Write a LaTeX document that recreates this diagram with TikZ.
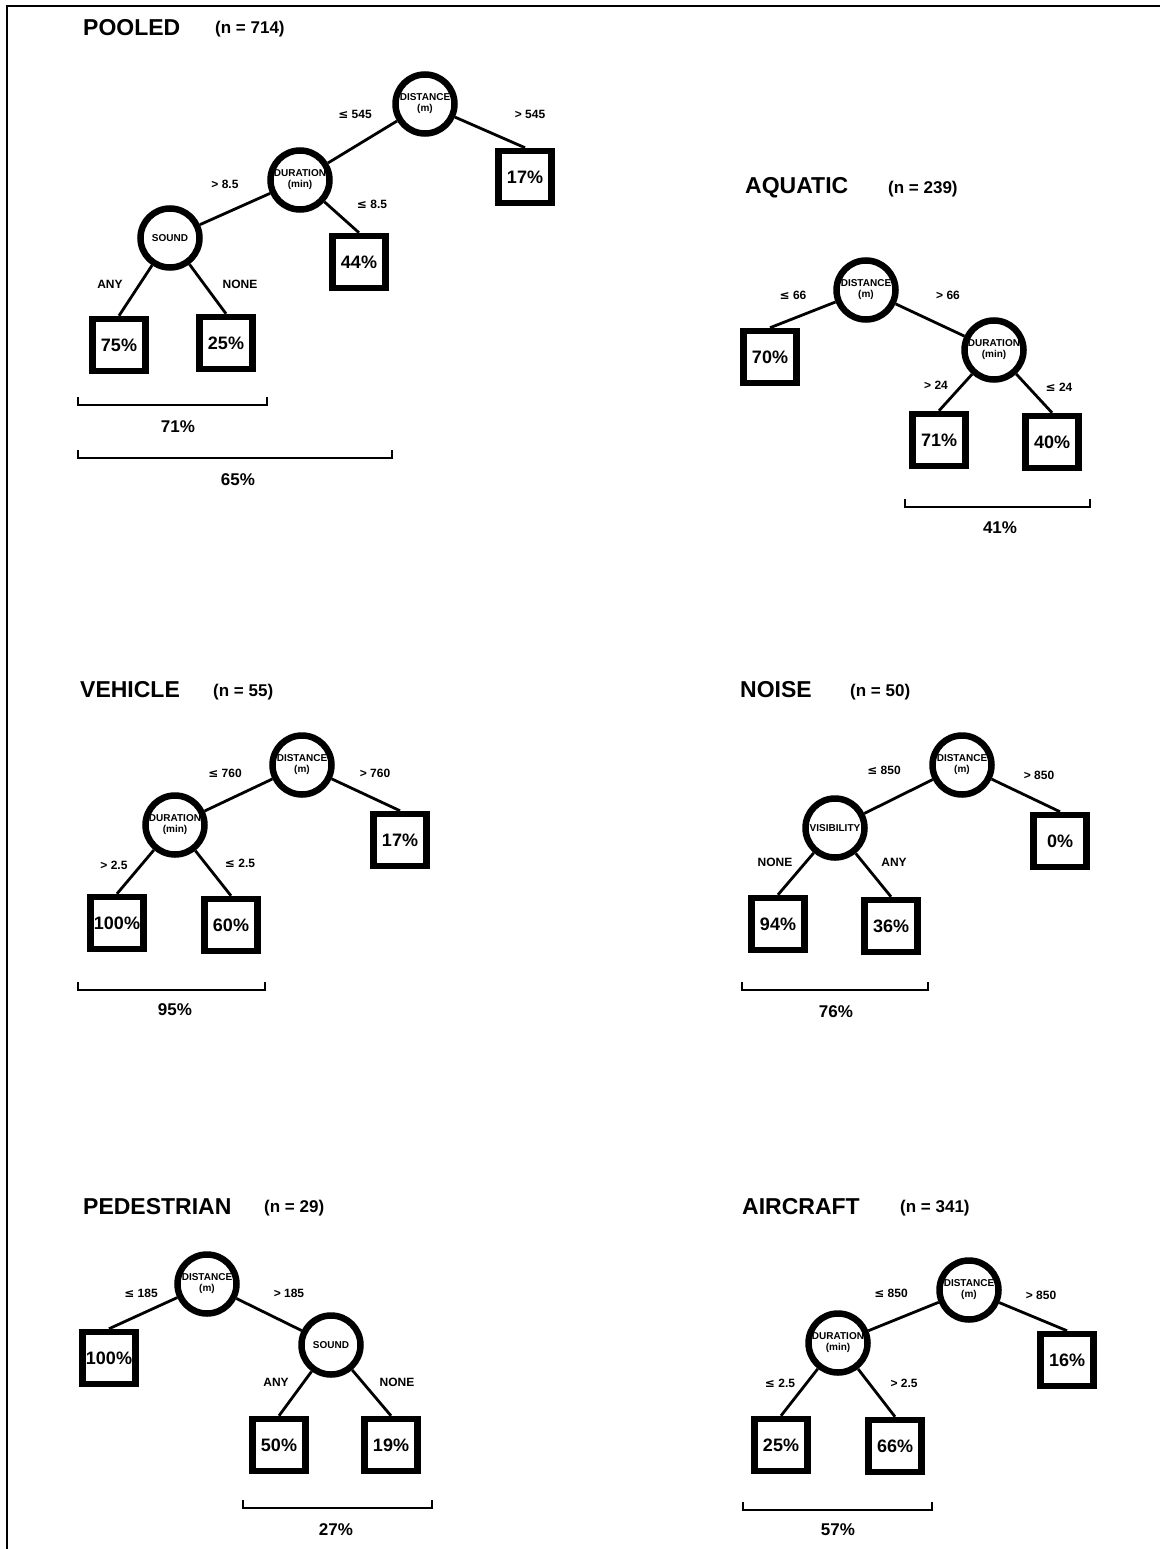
\documentclass[tikz,border=0pt]{standalone}
\usepackage{fontspec}
\setmainfont{Liberation Sans}
\newfontfamily\symfont{DejaVu Sans}
\newcommand{\LEq}{{\symfont\bfseries ≤}}
\tikzset{
  testnode/.style={circle, draw, line width=6.5pt, minimum size=59pt, inner sep=0pt, fill=white,
    path picture={\node[font=\bfseries\fontsize{10}{11}\selectfont, align=center, inner sep=0pt]
      at (path picture bounding box.center) {#1};}},
  leaf/.style={draw, line width=6.5pt, minimum width=53pt, minimum height=52pt, inner sep=0pt, fill=white,
    font=\bfseries\fontsize{18}{18}\selectfont},
  link/.style={line width=2.8pt},
  blab/.style={font=\bfseries\fontsize{12}{12}\selectfont, inner sep=0pt},
  ttl/.style={anchor=west, font=\bfseries\fontsize{23}{23}\selectfont, inner sep=0pt},
  ncount/.style={anchor=west, font=\bfseries\fontsize{17}{17}\selectfont, inner sep=0pt},
  brk/.style={line width=2.3pt},
  pct/.style={font=\bfseries\fontsize{17}{17}\selectfont, inner sep=0pt}
}
\begin{document}
\begin{tikzpicture}[x=1pt, y=-1pt]
\useasboundingbox (0,0) rectangle (1160,1549);
% frame
\coordinate (fbl) at (7,1549);
\coordinate (ftl) at (7,6);
\coordinate (ftr) at (1160,6);
\draw[line width=2.2pt] (fbl) -- (ftl) -- (ftr);

% ---------------- POOLED ----------------
\node[ttl] (pT) at (83,28) {POOLED};
\node[ncount] (pN) at (215,29) {(n = 714)};
\node[testnode={DISTANCE\\(m)}] (p1) at (425,104) {};
\node[testnode={DURATION\\(min)}] (p2) at (300,180) {};
\node[testnode={SOUND}] (p3) at (170,238) {};
\node[leaf] (p17) at (525,177) {17\%};
\node[leaf] (p44) at (359,262) {44\%};
\node[leaf] (p75) at (119,345) {75\%};
\node[leaf] (p25) at (226,343) {25\%};
\draw[link] (p1) -- (p2);
\draw[link] (p1) -- (p17.north);
\draw[link] (p2) -- (p3);
\draw[link] (p2) -- (p44.north);
\draw[link] (p3) -- (p75.north);
\draw[link] (p3) -- (p25.north);
\node[blab] (pl1) at (355,114) {\LEq\ 545};
\node[blab] (pl2) at (530,114) {> 545};
\node[blab] (pl3) at (225,184) {> 8.5};
\node[blab] (pl4) at (372,204) {\LEq\ 8.5};
\node[blab] (pl5) at (110,284) {ANY};
\node[blab] (pl6) at (240,284) {NONE};
\coordinate (pa1) at (78,397); \coordinate (pa2) at (78,405);
\coordinate (pa3) at (267,405); \coordinate (pa4) at (267,397);
\draw[brk] (pa1) -- (pa2) -- (pa3) -- (pa4);
\node[pct] (p71) at (178,427) {71\%};
\coordinate (pb1) at (78,450); \coordinate (pb2) at (78,458);
\coordinate (pb3) at (392,458); \coordinate (pb4) at (392,450);
\draw[brk] (pb1) -- (pb2) -- (pb3) -- (pb4);
\node[pct] (p65) at (238,480) {65\%};

% ---------------- AQUATIC ----------------
\node[ttl] (aT) at (745,188) {AQUATIC};
\node[ncount] (aN) at (888,189) {(n = 239)};
\node[testnode={DISTANCE\\(m)}] (a1) at (866,290) {};
\node[testnode={DURATION\\(min)}] (a2) at (994,350) {};
\node[leaf] (a70) at (770,357) {70\%};
\node[leaf] (a71) at (939,440) {71\%};
\node[leaf] (a40) at (1052,442) {40\%};
\draw[link] (a1) -- (a70.north);
\draw[link] (a1) -- (a2);
\draw[link] (a2) -- (a71.north);
\draw[link] (a2) -- (a40.north);
\node[blab] (al1) at (793,295) {\LEq\ 66};
\node[blab] (al2) at (948,295) {> 66};
\node[blab] (al3) at (936,385) {> 24};
\node[blab] (al4) at (1059,387) {\LEq\ 24};
\coordinate (aa1) at (905,499); \coordinate (aa2) at (905,507);
\coordinate (aa3) at (1090,507); \coordinate (aa4) at (1090,499);
\draw[brk] (aa1) -- (aa2) -- (aa3) -- (aa4);
\node[pct] (a41) at (1000,528) {41\%};

% ---------------- VEHICLE ----------------
\node[ttl] (vT) at (80,690) {VEHICLE};
\node[ncount] (vN) at (213,692) {(n = 55)};
\node[testnode={DISTANCE\\(m)}] (v1) at (302,765) {};
\node[testnode={DURATION\\(min)}] (v2) at (175,825) {};
\node[leaf] (v17) at (400,840) {17\%};
\node[leaf] (v100) at (117,923) {100\%};
\node[leaf] (v60) at (231,925) {60\%};
\draw[link] (v1) -- (v2);
\draw[link] (v1) -- (v17.north);
\draw[link] (v2) -- (v100.north);
\draw[link] (v2) -- (v60.north);
\node[blab] (vl1) at (225,773) {\LEq\ 760};
\node[blab] (vl2) at (375,773) {> 760};
\node[blab] (vl3) at (114,865) {> 2.5};
\node[blab] (vl4) at (240,863) {\LEq\ 2.5};
\coordinate (va1) at (78,982); \coordinate (va2) at (78,990);
\coordinate (va3) at (265,990); \coordinate (va4) at (265,982);
\draw[brk] (va1) -- (va2) -- (va3) -- (va4);
\node[pct] (v95) at (175,1010) {95\%};

% ---------------- NOISE ----------------
\node[ttl] (nT) at (740,690) {NOISE};
\node[ncount] (nN) at (850,692) {(n = 50)};
\node[testnode={DISTANCE\\(m)}] (n1) at (962,765) {};
\node[testnode={VISIBILITY}] (n2) at (835,828) {};
\node[leaf] (n0) at (1060,841) {0\%};
\node[leaf] (n94) at (778,924) {94\%};
\node[leaf] (n36) at (891,926) {36\%};
\draw[link] (n1) -- (n2);
\draw[link] (n1) -- (n0.north);
\draw[link] (n2) -- (n94.north);
\draw[link] (n2) -- (n36.north);
\node[blab] (nl1) at (884,770) {\LEq\ 850};
\node[blab] (nl2) at (1039,775) {> 850};
\node[blab] (nl3) at (775,862) {NONE};
\node[blab] (nl4) at (894,862) {ANY};
\coordinate (na1) at (742,982); \coordinate (na2) at (742,990);
\coordinate (na3) at (928,990); \coordinate (na4) at (928,982);
\draw[brk] (na1) -- (na2) -- (na3) -- (na4);
\node[pct] (n76) at (836,1012) {76\%};

% ---------------- PEDESTRIAN ----------------
\node[ttl] (dT) at (83,1207) {PEDESTRIAN};
\node[ncount] (dN) at (264,1208) {(n = 29)};
\node[testnode={DISTANCE\\(m)}] (d1) at (207,1284) {};
\node[testnode={SOUND}] (d2) at (331,1345) {};
\node[leaf] (d100) at (109,1358) {100\%};
\node[leaf] (d50) at (279,1445) {50\%};
\node[leaf] (d19) at (391,1445) {19\%};
\draw[link] (d1) -- (d100.north);
\draw[link] (d1) -- (d2);
\draw[link] (d2) -- (d50.north);
\draw[link] (d2) -- (d19.north);
\node[blab] (dl1) at (141,1293) {\LEq\ 185};
\node[blab] (dl2) at (289,1293) {> 185};
\node[blab] (dl3) at (276,1382) {ANY};
\node[blab] (dl4) at (397,1382) {NONE};
\coordinate (da1) at (243,1500); \coordinate (da2) at (243,1508);
\coordinate (da3) at (432,1508); \coordinate (da4) at (432,1500);
\draw[brk] (da1) -- (da2) -- (da3) -- (da4);
\node[pct] (d27) at (336,1530) {27\%};

% ---------------- AIRCRAFT ----------------
\node[ttl] (rT) at (742,1207) {AIRCRAFT};
\node[ncount] (rN) at (900,1208) {(n = 341)};
\node[testnode={DISTANCE\\(m)}] (r1) at (969,1290) {};
\node[testnode={DURATION\\(min)}] (r2) at (838,1343) {};
\node[leaf] (r16) at (1067,1360) {16\%};
\node[leaf] (r25) at (781,1445) {25\%};
\node[leaf] (r66) at (895,1446) {66\%};
\draw[link] (r1) -- (r2);
\draw[link] (r1) -- (r16.north);
\draw[link] (r2) -- (r25.north);
\draw[link] (r2) -- (r66.north);
\node[blab] (rl1) at (891,1293) {\LEq\ 850};
\node[blab] (rl2) at (1041,1295) {> 850};
\node[blab] (rl3) at (780,1383) {\LEq\ 2.5};
\node[blab] (rl4) at (904,1383) {> 2.5};
\coordinate (ra1) at (743,1502); \coordinate (ra2) at (743,1510);
\coordinate (ra3) at (932,1510); \coordinate (ra4) at (932,1502);
\draw[brk] (ra1) -- (ra2) -- (ra3) -- (ra4);
\node[pct] (r57) at (838,1530) {57\%};
\end{tikzpicture}
\end{document}
